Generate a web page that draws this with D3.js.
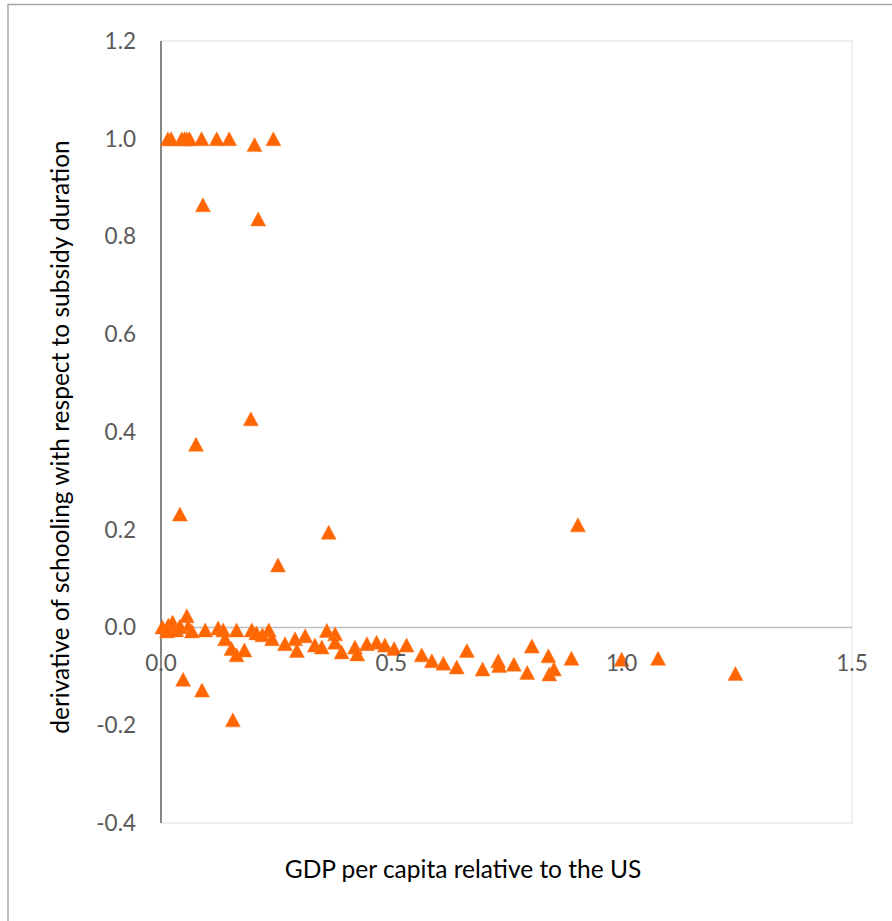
<!DOCTYPE html>
<html>
<head>
<meta charset="utf-8">
<script src="https://cdn.jsdelivr.net/npm/d3@7"></script>
<style>
  body { margin: 0; background: #fff; }
  svg { display: block; }
  .tick-label { font-family: Lato, "Open Sans", sans-serif; font-size: 22.5px; fill: #595959; }
  .axis-title { font-family: Lato, "Open Sans", sans-serif; font-size: 24.5px; fill: #000; }
</style>
</head>
<body>
<div id="chart"></div>
<script>
// GDP per capita relative to the US (x) and derivative of schooling (y)
var gdpRel = [
    0.015, 0.022, 0.045, 0.051, 0.056, 0.062, 0.088, 0.121, 0.148, 0.244, 0.203,
    0.091, 0.211, 0.195, 0.076, 0.041, 0.364, 0.254, 0.905,
    0.048, 0.089, 0.156,
    0.003, 0.016, 0.025, 0.013, 0.033, 0.056, 0.059, 0.067, 0.041,
    0.096, 0.124, 0.135, 0.139, 0.153, 0.164, 0.164, 0.181, 0.197, 0.207,
    0.220, 0.234, 0.241, 0.269, 0.291, 0.295, 0.313, 0.334, 0.349, 0.360,
    0.378, 0.378, 0.392, 0.421, 0.426, 0.447, 0.468, 0.486, 0.506, 0.533,
    0.566, 0.588, 0.613, 0.642, 0.664, 0.698, 0.732, 0.734, 0.766, 0.795,
    0.805, 0.841, 0.843, 0.853, 0.891, 1.000, 1.079, 1.247
];
var dSchooling = [
    1.0, 1.0, 1.0, 1.0, 1.0, 1.0, 1.0, 1.0, 1.0, 1.0, 0.988,
    0.865, 0.836, 0.427, 0.375, 0.232, 0.195, 0.128, 0.210,
    -0.106, -0.128, -0.189,
    0.001, 0.005, 0.011, -0.007, -0.005, 0.024, 0.001, -0.007, 0.003,
    -0.005, -0.001, -0.005, -0.023, -0.043, -0.005, -0.056, -0.046, -0.005, -0.011,
    -0.015, -0.005, -0.023, -0.033, -0.023, -0.047, -0.017, -0.036, -0.040, -0.006,
    -0.013, -0.030, -0.050, -0.040, -0.054, -0.033, -0.030, -0.036, -0.043, -0.036,
    -0.056, -0.068, -0.073, -0.081, -0.047, -0.085, -0.068, -0.078, -0.075, -0.092,
    -0.038, -0.058, -0.095, -0.085, -0.063, -0.065, -0.063, -0.094
];
var xTicks = [0, 0.5, 1.0, 1.5];
var yTicks = [-0.4, -0.2, 0, 0.2, 0.4, 0.6, 0.8, 1.0, 1.2];

var width = 892, height = 921;
var plot = { left: 161, right: 852, top: 41, bottom: 823 };

// excel style labels: one decimal, plain hyphen for negatives
function fmt(d) {
    return d3.format(".1f")(d).replace("\u2212", "-");
}

var svg = d3.select("#chart").append("svg")
    .attr("width", width)
    .attr("height", height);

// chart frame (cropped on right/bottom)
svg.append("path")
    .attr("d", "M8,921 L8,4.5 L892,4.5")
    .attr("fill", "none")
    .attr("stroke", "#a6a6a6")
    .attr("stroke-width", 1.5);

var x = d3.scaleLinear().domain([0, 1.5]).range([plot.left, plot.right]);
var y = d3.scaleLinear().domain([-0.4, 1.2]).range([plot.bottom, plot.top]);

// plot area border
svg.append("rect")
    .attr("x", plot.left)
    .attr("y", plot.top)
    .attr("width", plot.right - plot.left)
    .attr("height", plot.bottom - plot.top)
    .attr("fill", "none")
    .attr("stroke", "#e4e4e4")
    .attr("stroke-width", 1.2);

// horizontal axis line at y = 0
svg.append("line")
    .attr("x1", x(0)).attr("x2", x(1.5))
    .attr("y1", y(0)).attr("y2", y(0))
    .attr("stroke", "#bfbfbf")
    .attr("stroke-width", 1.5);

// vertical axis line at x = 0
svg.append("line")
    .attr("x1", x(0)).attr("x2", x(0))
    .attr("y1", y(1.2)).attr("y2", y(-0.4))
    .attr("stroke", "#868686")
    .attr("stroke-width", 2);

// y tick labels
svg.append("g").selectAll("text")
    .data(yTicks)
    .enter()
    .append("text")
    .attr("class", "tick-label")
    .attr("x", 136)
    .attr("y", function(d) { return y(d); })
    .attr("dy", "0.35em")
    .attr("text-anchor", "end")
    .text(fmt);

// points
var pts = gdpRel.map(function(g, i) { return { g: g, d: dSchooling[i] }; });
var tri = "M0,-7L7.5,7L-7.5,7Z";
svg.append("g").selectAll("path")
    .data(pts)
    .enter()
    .append("path")
    .attr("d", tri)
    .attr("fill", "#ff6600")
    .attr("stroke", "#ff7a26")
    .attr("stroke-width", 0.5)
    .attr("transform", function(p) {
        return "translate(" + x(p.g) + "," + y(p.d) + ")";
    });

// x tick labels (drawn over points, just below the zero line)
svg.append("g").selectAll("text")
    .data(xTicks)
    .enter()
    .append("text")
    .attr("class", "tick-label")
    .attr("x", function(d) { return x(d); })
    .attr("y", y(0) + 43)
    .attr("text-anchor", "middle")
    .text(fmt);

// axis titles
svg.append("text")
    .attr("class", "axis-title")
    .attr("x", 463)
    .attr("y", 869)
    .attr("dy", "0.35em")
    .attr("text-anchor", "middle")
    .text("GDP per capita relative to the US");

svg.append("text")
    .attr("class", "axis-title")
    .attr("transform", "translate(60,437) rotate(-90)")
    .attr("dy", "0.35em")
    .attr("text-anchor", "middle")
    .text("derivative of schooling with respect to subsidy duration");
</script>
</body>
</html>
